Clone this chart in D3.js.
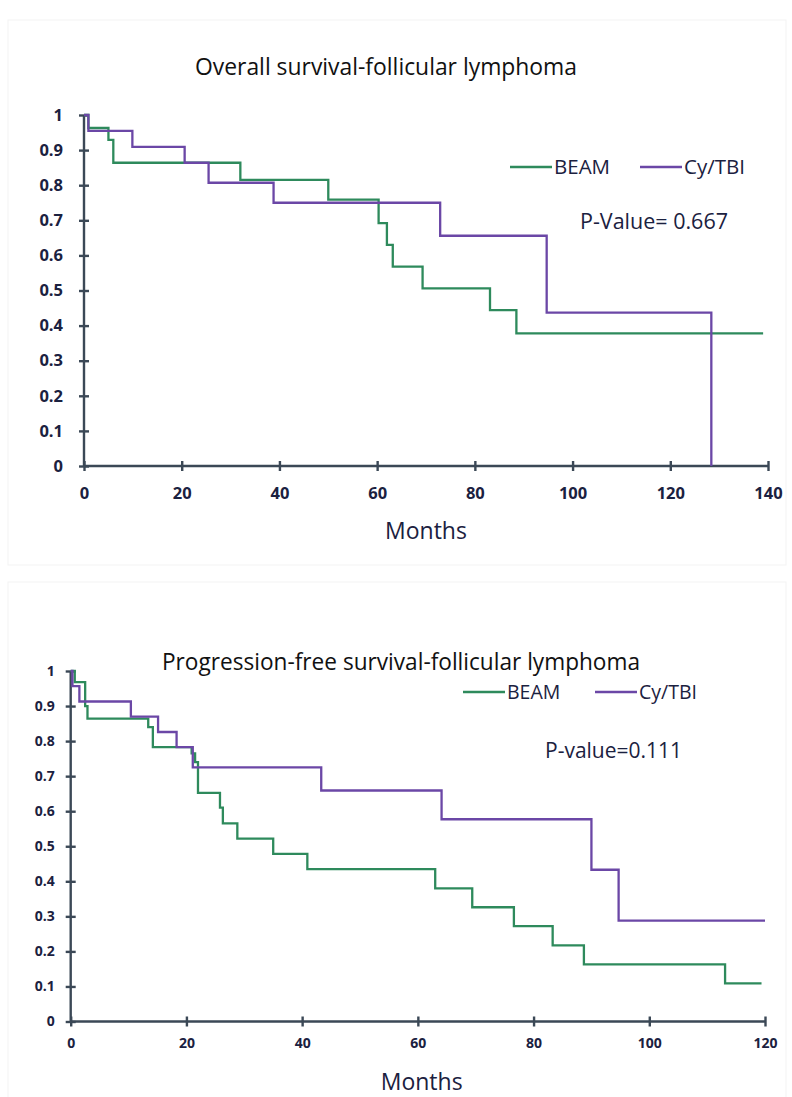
<!DOCTYPE html>
<html>
<head>
<meta charset="utf-8">
<script src="https://cdn.jsdelivr.net/npm/d3@7"></script>
<style>
  body { margin: 0; background: #fff; }
  svg { display: block; font-family: "Open Sans", sans-serif; }
  .axis path, .axis line { stroke: #3b4856; stroke-width: 2.4; }
  .axis text { fill: #1b2140; font-weight: bold; font-family: "Open Sans", sans-serif; }
</style>
</head>
<body>
<div class="chart-container"></div>
<script>
// Overall survival (top)
const osBeamTime = [0, 0.9, 5, 6, 32, 50, 60.3, 62, 63.2, 69.3, 83.1, 88.5, 139];
const osBeamSurv = [1, 0.963, 0.929, 0.864, 0.815, 0.759, 0.692, 0.63, 0.568, 0.506, 0.444, 0.378, 0.378];
const osCyTime = [0, 0.9, 9.9, 20.6, 25.5, 38.8, 72.9, 94.7, 128.4];
const osCySurv = [1, 0.955, 0.909, 0.864, 0.807, 0.75, 0.656, 0.437, 0];
const osXTicks = [0, 20, 40, 60, 80, 100, 120, 140];

// Progression-free survival (bottom)
const pfsBeamTime = [0, 0.7, 2.5, 2.9, 13.4, 14.2, 20.9, 21.5, 22.0, 25.8, 26.3, 28.8, 35, 40.9, 63, 69.4, 76.6, 83.3, 88.7, 113.1, 119.4];
const pfsBeamSurv = [1, 0.968, 0.9, 0.864, 0.84, 0.783, 0.765, 0.74, 0.652, 0.61, 0.565, 0.522, 0.478, 0.435, 0.38, 0.326, 0.272, 0.217, 0.163, 0.109, 0.109];
const pfsCyTime = [0, 0.3, 1.5, 10.4, 15.1, 18.3, 21.1, 43.3, 64.1, 90.0, 94.7, 120];
const pfsCySurv = [1, 0.957, 0.913, 0.87, 0.826, 0.783, 0.725, 0.659, 0.577, 0.433, 0.288, 0.288];
const pfsXTicks = [0, 20, 40, 60, 80, 100, 120];

const yTicks = [0, 0.1, 0.2, 0.3, 0.4, 0.5, 0.6, 0.7, 0.8, 0.9, 1];
const seriesNames = ['BEAM', 'Cy/TBI'];
const colors = {BEAM: '#2e8a5c', 'Cy/TBI': '#6b47a6'};

const svg = d3.select('.chart-container').append('svg')
    .attr('width', 792).attr('height', 1097);

// faint frames round each panel
svg.append('rect').attr('x', 8).attr('y', 20).attr('width', 778).attr('height', 545)
    .attr('fill', 'none').attr('stroke', '#f3f3f3');
svg.append('rect').attr('x', 8).attr('y', 582).attr('width', 778).attr('height', 520)
    .attr('fill', 'none').attr('stroke', '#f3f3f3');

function toPoints(times, surv){
    return times.map((t, i) => ({t: t, s: surv[i]}));
}

function drawPanel(cfg){
    const g = svg.append('g').attr('transform', `translate(${cfg.left}, ${cfg.top})`);
    const xScale = d3.scaleLinear([0, cfg.xMax], [0, cfg.width]);
    const yScale = d3.scaleLinear([0, 1], [cfg.height, 0]);

    // title
    svg.append('text').attr('x', cfg.titleX).attr('y', cfg.titleY)
        .attr('text-anchor', 'middle')
        .style('font-size', cfg.titleSize + 'px').style('fill', '#111')
        .attr('textLength', cfg.titleLen).attr('lengthAdjust', 'spacingAndGlyphs')
        .text(cfg.title);

    // axes
    const xAxis = d3.axisBottom(xScale).tickValues(cfg.xTicks).tickFormat(d3.format('d'))
        .tickSizeOuter(0);
    const yAxis = d3.axisLeft(yScale).tickValues(yTicks).tickFormat(d => d === 0 || d === 1 ? d : d3.format('.1f')(d))
        .tickSizeOuter(0);
    const xAxisDraw = g.append('g').attr('class', 'x axis')
        .attr('transform', `translate(0, ${cfg.height})`).call(xAxis);
    const yAxisDraw = g.append('g').attr('class', 'y axis').call(yAxis);
    xAxisDraw.selectAll('.tick line').attr('y1', -5).attr('y2', 5);
    yAxisDraw.selectAll('.tick line').attr('x1', -5).attr('x2', 5);
    xAxisDraw.selectAll('text').attr('y', cfg.xLabelOffset).attr('dy', '0.35em')
        .style('font-size', cfg.tickSize + 'px');
    yAxisDraw.selectAll('text').attr('x', -cfg.yLabelOffset)
        .style('font-size', cfg.tickSize + 'px');
    xAxisDraw.select('.domain').attr('d', `M0,0H${cfg.width}`);
    yAxisDraw.select('.domain').attr('d', `M0,${cfg.height}V0`);

    // x axis title
    g.append('text').attr('x', cfg.monthsX).attr('y', cfg.monthsY)
        .attr('text-anchor', 'middle')
        .style('font-size', '23px').style('fill', '#1b2140')
        .text('Months');

    // survival curves
    const line = d3.line().x(d => xScale(d.t)).y(d => yScale(d.s)).curve(d3.curveStepAfter);
    cfg.series.forEach(s => {
        g.append('path').datum(toPoints(s.time, s.surv))
            .attr('d', line)
            .attr('fill', 'none')
            .attr('stroke', colors[s.name])
            .attr('stroke-width', 2.3);
    });

    // legend
    const legend = svg.append('g').attr('class', 'legend');
    seriesNames.forEach((name, i) => {
        const lx = cfg.legendX[i];
        legend.append('line').attr('x1', lx).attr('x2', lx + 42)
            .attr('y1', cfg.legendY).attr('y2', cfg.legendY)
            .attr('stroke', colors[name]).attr('stroke-width', 2.5);
        legend.append('text').attr('x', lx + 44).attr('y', cfg.legendY + 7)
            .style('font-size', cfg.legendSize + 'px').style('fill', '#1b2140')
            .text(name);
    });

    svg.append('text').attr('x', cfg.pX).attr('y', cfg.pY)
        .style('font-size', cfg.pSize + 'px').style('fill', '#1b2140')
        .text(cfg.pText);
}

drawPanel({
    left: 84, top: 115, width: 684, height: 351, xMax: 140, xTicks: osXTicks,
    title: 'Overall survival-follicular lymphoma', titleX: 386, titleY: 75, titleSize: 24, titleLen: 382,
    tickSize: 16.5, xLabelOffset: 27, yLabelOffset: 21,
    monthsX: 342, monthsY: 424,
    legendX: [510, 640], legendY: 167, legendSize: 20.5,
    pText: 'P-Value= 0.667', pX: 580, pY: 229, pSize: 21.5,
    series: [
        {name: 'BEAM', time: osBeamTime, surv: osBeamSurv},
        {name: 'Cy/TBI', time: osCyTime, surv: osCySurv}
    ]
});

drawPanel({
    left: 70.7, top: 671, width: 694.3, height: 350.5, xMax: 120, xTicks: pfsXTicks,
    title: 'Progression-free survival-follicular lymphoma', titleX: 401, titleY: 670, titleSize: 24, titleLen: 478,
    tickSize: 14, xLabelOffset: 21.5, yLabelOffset: 16,
    monthsX: 351, monthsY: 419,
    legendX: [463, 595], legendY: 692, legendSize: 19.5,
    pText: 'P-value=0.111', pX: 545, pY: 758, pSize: 21,
    series: [
        {name: 'BEAM', time: pfsBeamTime, surv: pfsBeamSurv},
        {name: 'Cy/TBI', time: pfsCyTime, surv: pfsCySurv}
    ]
});
</script>
</body>
</html>
